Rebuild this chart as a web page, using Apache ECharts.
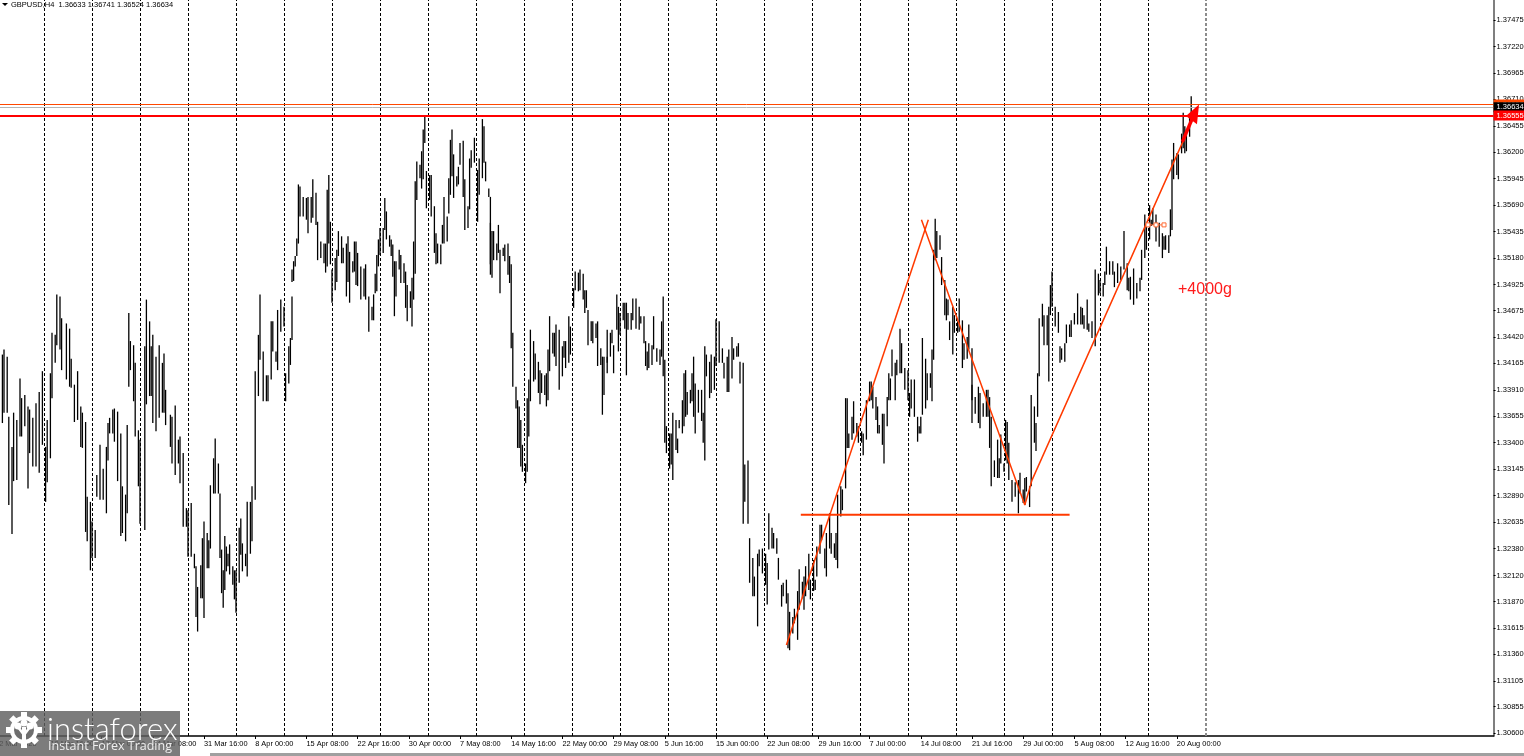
<!DOCTYPE html>
<html><head><meta charset="utf-8">
<style>html,body{margin:0;padding:0;background:#fff}#c{width:1524px;height:756px}</style>
<script src="https://cdn.jsdelivr.net/npm/echarts@6/dist/echarts.min.js"></script>
</head><body><div id="c"></div>
<script>
// Bars are [H4 bar number, high, low]; high and low are pips above 1.3000.
const barsMarApr=[[2,425,359],[3,430,369],[5,423,369],[6,365,280],[8,336,252],[9,369,303],[11,362,304],[13,402,346],[14,383,346],[16,386,356],[18,375,296],[19,372,330],[21,364,317],[23,378,317],[25,389,311],[27,409,338],[29,336,283],[30,362,302],[32,407,325],[33,446,383],[35,444,417],[36,483,434],[38,481,430],[39,460,410],[42,455,401],[44,450,394],[45,421,393],[47,396,360],[49,409,362],[51,375,336],[52,369,335],[54,360,254],[55,288,245],[57,283,217],[58,264,229],[60,256,229],[61,309,288],[63,338,285],[65,315,285],[67,336,272],[68,359,323],[69,364,349],[71,372,349],[72,373,341],[74,370,303],[76,349,250],[77,298,253],[79,290,245],[80,357,272],[81,465,394],[82,438,410],[84,434,380],[85,417,346],[87,352,298],[88,343,262],[91,433,256],[92,478,377],[94,457,385],[95,433,385],[96,444,359],[98,423,351],[100,434,364],[102,417,369],[103,426,369],[104,391,357],[107,367,336],[108,365,320],[110,376,309],[112,343,320],[113,346,301],[115,330,259],[117,277,259],[118,275,230],[120,282,230],[122,233,219],[123,221,172],[124,201,158],[126,222,190],[127,248,190],[128,264,171],[130,253,219],[131,246,219],[132,299,238],[134,325,291],[135,344,291],[137,320,291],[138,291,229],[139,237,195],[140,217,181],[141,250,198],[142,240,216],[143,233,221],[144,242,213],[146,221,203],[147,217,189],[148,217,176],[150,258,205],[151,267,232],[152,243,216],[154,233,221],[155,283,211],[157,283,233],[158,298,245],[160,409,285],[162,444,385],[163,483,420],[165,428,380],[167,405,380],[168,405,380],[170,457,401],[171,457,428],[173,428,418],[174,468,410],[176,478,447],[178,471,452],[179,407,380],[181,433,397],[182,441,415]];
const barsAprMay=[[183,481,439],[183,507,495],[184,515,496],[185,520,510],[186,537,520],[187,589,532],[188,587,558],[190,577,558],[192,576,555],[193,577,542],[195,577,552],[196,594,557],[198,581,550],[199,553,516],[201,534,518],[203,532,513],[204,532,504],[205,584,510],[206,598,532],[207,553,512],[208,507,475],[210,518,487],[211,526,495],[212,544,520],[214,539,513],[215,528,513],[217,532,481],[218,539,495],[219,524,475],[221,515,504],[222,534,505],[223,534,492],[224,523,491],[226,510,478],[228,508,481],[229,512,478],[231,481,447],[233,471,458],[234,483,458],[235,503,484],[236,521,486],[237,536,510],[238,547,521],[240,547,523],[241,576,545],[242,563,536],[244,540,529],[245,536,520],[246,531,500],[247,515,462],[248,515,481],[250,526,507],[251,521,494],[253,513,494],[254,505,470],[255,492,457],[257,486,470],[258,499,452],[259,534,478],[260,592,503],[261,611,574],[263,608,595],[264,621,585],[265,642,594],[266,656,629],[267,602,566],[269,598,574],[270,598,558],[272,568,523],[273,542,512],[274,532,513],[276,531,512],[277,550,532],[278,577,532],[280,558,534],[281,595,561],[282,632,579],[283,642,597],[284,618,576],[286,597,587],[287,606,589],[288,629,608],[290,631,577],[291,594,545],[293,568,547],[294,614,565],[295,622,605],[297,634,610],[299,603,553],[300,614,579],[302,652,595],[303,645,610],[304,611,592],[306,585,577],[307,577,502],[307,552,512],[308,544,499],[309,544,516],[311,532,516],[312,550,523],[313,526,484],[315,528,520],[316,531,515],[318,532,502],[319,520,494]];
const barsMayJun=[[320,512,431],[321,446,394],[323,394,373],[324,381,335],[325,375,335],[326,362,317],[327,338,312],[329,320,301],[330,383,312],[331,401,346],[332,449,380],[334,438,399],[335,426,401],[337,418,388],[338,410,377],[339,407,388],[341,405,386],[342,407,375],[343,430,381],[344,462,409],[346,446,426],[347,446,423],[348,454,414],[350,449,391],[352,433,404],[353,438,422],[354,438,412],[356,462,417],[357,452,425],[359,489,470],[360,505,487],[362,504,486],[363,507,487],[365,503,478],[366,487,465],[367,487,470],[368,468,434],[370,457,438],[371,457,436],[373,455,441],[374,457,414],[376,431,415],[377,423,367],[378,423,386],[380,423,407],[380,449,417],[382,446,423],[383,449,436],[384,434,407],[386,483,449],[387,471,428],[388,465,444],[390,475,458],[391,475,450],[392,475,405],[393,465,449],[395,465,449],[396,479,458],[398,479,450],[400,471,449],[401,462,455],[403,462,436],[404,438,414],[405,428,410],[406,436,412],[408,434,415],[409,462,430],[411,431,418],[413,430,415],[414,457,423],[415,481,404],[416,420,340],[417,356,330],[419,349,315],[420,349,319],[421,369,304],[423,362,333],[424,344,330],[425,362,354],[427,381,349],[428,407,356],[429,410,365],[430,389,367],[432,391,378],[433,407,380],[434,423,365],[435,397,349],[437,391,369],[439,391,361],[440,369,340],[441,433,323],[442,425,404],[444,418,383],[445,425,388],[447,423,391],[448,459,414],[450,457,417],[452,431,417],[453,417,402],[455,423,389],[456,430,389],[458,442,402],[459,431,420],[461,433,423],[462,436,423],[463,418,397],[465,417,262]];
const barsJunJul=[[466,319,283],[468,323,262],[469,248,205],[471,229,192],[472,211,192],[474,233,163],[475,237,221],[477,238,214],[479,233,203],[480,224,184],[481,272,237],[483,258,238],[484,253,238],[486,248,233],[487,229,208],[489,203,182],[490,205,192],[492,208,185],[493,195,142],[494,177,140],[496,172,156],[497,180,166],[499,197,150],[500,218,179],[502,206,190],[503,211,179],[504,221,192],[506,233,198],[507,208,189],[509,227,197],[510,208,198],[511,240,211],[513,261,233],[514,261,246],[516,238,219],[517,253,211],[519,272,238],[520,253,233],[522,243,229],[523,253,227],[524,290,219],[526,298,269],[527,295,275],[529,383,296],[530,383,335],[531,349,335],[533,365,343],[534,380,349],[536,359,346],[537,356,340],[539,351,340],[540,349,328],[542,381,343],[544,399,380],[545,399,381],[546,394,373],[548,384,362],[549,375,349],[550,357,349],[552,368,338],[553,368,320],[555,384,356],[556,407,381],[557,402,381],[558,430,404],[560,417,381],[561,420,405],[563,450,407],[564,436,407],[566,412,391],[568,410,381],[569,388,365],[570,401,373],[572,401,365],[574,365,341],[575,356,349],[576,365,349],[577,441,367],[579,421,373],[580,407,381],[582,407,393],[583,430,380],[584,526,420],[585,556,516],[586,544,518],[588,540,526],[589,519,492],[591,497,463],[592,479,458],[593,478,463],[594,457,439],[596,471,425],[597,463,446],[599,457,446],[600,479,447],[602,458,412],[603,436,420],[605,442,421],[606,454,430],[608,431,381],[608,396,359],[610,384,368],[612,394,359],[613,388,354],[615,378,365],[617,391,365],[618,391,365],[619,384,335],[620,365,298]];
const barsJulAug=[[622,323,307],[624,343,306],[625,325,306],[626,348,320],[628,320,312],[629,362,323],[630,360,320],[631,340,304],[633,304,283],[635,302,288],[637,304,272],[638,311,291],[640,295,282],[641,306,280],[642,307,293],[644,298,278],[645,386,298],[647,375,340],[648,359,332],[649,407,365],[650,460,404],[652,474,452],[653,463,434],[655,463,434],[656,471,399],[657,492,463],[658,505,471],[660,471,452],[662,466,446],[663,433,417],[664,431,420],[666,436,418],[667,454,436],[669,454,442],[670,458,442],[672,465,454],[674,484,454],[676,471,454],[677,470,454],[678,463,450],[680,478,449],[681,455,447],[683,457,441],[685,507,433],[687,503,482],[688,497,484],[690,494,481],[691,505,492],[692,529,502],[694,515,502],[696,515,502],[697,505,490],[699,513,494],[701,510,497],[703,544,507],[705,513,487],[706,499,486],[707,500,478],[709,508,473],[711,494,479],[713,499,486],[714,526,497],[716,560,518],[717,549,526],[719,569,536],[720,555,549],[721,566,550],[723,560,534],[725,552,529],[727,542,518],[728,539,526],[729,540,526],[731,540,523],[732,565,539],[733,613,545],[734,629,594],[736,619,598],[737,618,594],[739,638,619],[740,658,624],[741,645,619],[742,642,621],[744,653,635],[745,674,652]];
const dateTickBars=[0,32,64,96,128,160,192,224,256,288,320,352,384,416,448,480,512,544,576,608,640,672,704,736];
const dateTickLabels=["2 Mar 2025","10 Mar 16:00","17 Mar 00:00","24 Mar 08:00","31 Mar 16:00","8 Apr 00:00","15 Apr 08:00","22 Apr 16:00","30 Apr 00:00","7 May 08:00","14 May 16:00","22 May 00:00","29 May 08:00","5 Jun 16:00","15 Jun 00:00","22 Jun 08:00","29 Jun 16:00","7 Jul 00:00","14 Jul 08:00","21 Jul 16:00","29 Jul 00:00","5 Aug 08:00","12 Aug 16:00","20 Aug 00:00"];
const priceTicks=[1.37475,1.3722,1.36965,1.3671,1.36455,1.362,1.35945,1.3569,1.35435,1.3518,1.34925,1.34675,1.3442,1.34165,1.3391,1.33655,1.334,1.33145,1.3289,1.32635,1.3238,1.3212,1.3187,1.31615,1.3136,1.31105,1.30855,1.306];
const weekStarts=[28.2,58.2,88.2,118.2,148.2,178.2,208.2,238.2,268.2,298.2,328.2,358.2,388.2,418.2,448.2,478.2,508.2,538.2,568.2,598.2,628.2,658.2,688.2,718.2];
const shiftMark=754.25;
const upperLevel=1.3666, bidLevel=1.36634, lowerLevel=1.36555;
const necklinePrice=1.32705, necklineBars=[501,669];
const legUp1=[[492,1.3145],[580.7,1.3555]];
const legDown=[[576.4,1.3555],[641,1.3280],[645.5,1.3304],[741.75,1.3637]];
const arrowShaft=[[739.5,1.3630],[745.5,1.3652]];
const arrowHead=[[749.9,1.3666],[741.75,1.3655],[748.6,1.3647]];
const boxLevel=[[718,1.3550],[723,1.3550],[728,1.3550]];

const RED='#ff3a00', FONT='"Liberation Sans",Arial,sans-serif';
const toPrice=p=>1.3+p/10000;
const bars=[...barsMarApr,...barsAprMay,...barsMayJun,...barsJunJul,...barsJulAug].map(b=>[b[0],toPrice(b[1]),toPrice(b[2])]);

const lineSeries=(data,color,width,extra)=>Object.assign({type:'line',data,symbol:'none',silent:true,animation:false,z:5,lineStyle:{color,width}},extra||{});

const levelLine=(v,color,width,bg,name)=>({yAxis:v,lineStyle:{color,width,type:'solid'},
  label:{show:true,position:'end',distance:0,formatter:name,color:'#fff',backgroundColor:bg,padding:[1,2,1,3],fontFamily:FONT,fontSize:7.5,lineHeight:8}});

const LOGO='#fff';
const teeth=[];
for(let i=0;i<8;i++){teeth.push({type:'rect',z:31,shape:{x:-3,y:-18,width:6,height:6},rotation:i*Math.PI/4,originX:0,originY:0,style:{fill:LOGO}});}

const chart=echarts.init(document.getElementById('c'),null,{renderer:'canvas'});
chart.setOption({
  animation:false,backgroundColor:'#fff',
  title:{text:'GBPUSD,H4  1.36633 1.36741 1.36524 1.36634',left:11,top:0,padding:0,textStyle:{fontFamily:FONT,fontSize:7.5,fontWeight:'normal',color:'#000',lineHeight:9}},
  grid:{left:-0.8,top:0,width:1494.4,height:736,containLabel:false,outerBoundsMode:'none'},
  xAxis:{type:'value',min:0,max:934,
    axisLine:{show:true,onZero:false,lineStyle:{color:'#000',width:1.5}},
    splitLine:{show:false},
    axisTick:{show:true,length:3,customValues:dateTickBars,lineStyle:{color:'#000'}},
    axisLabel:{customValues:dateTickBars,align:'left',margin:4,color:'#000',fontFamily:FONT,fontSize:7.4,
      formatter:v=>dateTickLabels[dateTickBars.indexOf(v)]||''}},
  yAxis:{type:'value',position:'right',min:1.30573,max:1.37668,scale:true,
    axisLine:{show:true,onZero:false,lineStyle:{color:'#555',width:1.5}},
    splitLine:{show:false},
    axisTick:{show:true,length:2,customValues:priceTicks,lineStyle:{color:'#000'}},
    axisLabel:{customValues:priceTicks,margin:3,color:'#000',fontFamily:FONT,fontSize:7.5,formatter:v=>v.toFixed(5)}},
  series:[
    lineSeries([],'#000',1,{z:1,markLine:{silent:true,symbol:'none',animation:false,label:{show:false},precision:5,
      lineStyle:{color:'#000',width:1,type:[3,2]},
      data:weekStarts.map(x=>({xAxis:x})).concat([{xAxis:shiftMark,lineStyle:{color:'#8c8c8c',width:2,type:[3,2]}}])}}),
    {type:'custom',name:'GBPUSD,H4',silent:true,animation:false,z:2,clip:true,data:bars,
      encode:{x:0,y:[1,2]},
      renderItem:(p,api)=>{const a=api.coord([api.value(0),api.value(1)]),b=api.coord([api.value(0),api.value(2)]);
        return {type:'rect',shape:{x:a[0]-0.65,y:a[1],width:1.3,height:b[1]-a[1]},style:{fill:'#000'}};}},
    lineSeries([],RED,1,{z:6,markLine:{silent:true,symbol:'none',animation:false,precision:5,data:[
      levelLine(upperLevel,'#ff4800',1,'#ff4800','1.36660'),
      levelLine(bidLevel,'#b4b4b4',1,'#000','1.36634'),
      levelLine(lowerLevel,'#ff0000',2,'#ff0000','1.36555')]}}),
    lineSeries(legUp1,RED,1.5),
    lineSeries(legDown,RED,1.5),
    lineSeries([[necklineBars[0],necklinePrice],[necklineBars[1],necklinePrice]],RED,2),
    lineSeries(arrowShaft,'#ff0000',3.5),
    {type:'custom',silent:true,animation:false,z:6,data:[0],
      renderItem:(p,api)=>({type:'polygon',shape:{points:arrowHead.map(c=>api.coord(c))},style:{fill:'#ff0000'}})},
    lineSeries(boxLevel,'#ff6a33',1,{symbol:'rect',symbolSize:4,showSymbol:true,itemStyle:{color:'#fff',borderColor:'#ff6a33',borderWidth:1}})
  ],
  graphic:[
    {type:'polygon',shape:{points:[[2,3],[8,3],[5,6]]},style:{fill:'#000'},z:20},
    {type:'text',x:1178,y:282,style:{text:'+4000g',fill:'#ff1a1a',font:'16px '+FONT},z:20},
    {type:'rect',shape:{x:210,y:753,width:1314,height:3},style:{fill:'#a0a0a0'},z:20},
    {type:'rect',shape:{x:0,y:711,width:180,height:45},style:{fill:'rgba(95,95,95,0.82)'},z:30},
    {type:'group',x:24,y:730,children:teeth.concat([
      {type:'circle',z:31,shape:{r:14},style:{fill:LOGO}},
      {type:'circle',z:32,shape:{r:10},style:{fill:'#6e6e6e'}},
      {type:'rect',z:33,shape:{x:-2,y:-3,width:4,height:17},style:{fill:LOGO}},
      {type:'circle',z:33,shape:{cx:-6,cy:-4,r:3.5},style:{fill:LOGO}},
      {type:'circle',z:33,shape:{cx:6,cy:-4,r:3.5},style:{fill:LOGO}},
      {type:'circle',z:33,shape:{cx:0,cy:-7,r:3.5},style:{fill:LOGO}},
      {type:'polyline',z:33,shape:{points:[[-6,-3],[0,5],[6,-3]]},style:{stroke:LOGO,lineWidth:2.5,fill:'none'}}
    ])},
    {type:'text',x:47,y:714,z:31,style:{text:'instaforex',fill:'#fff',font:'300 31px Lato,"Open Sans",sans-serif'}},
    {type:'text',x:48,y:740,z:31,style:{text:'Instant Forex Trading',fill:'#eee',font:'12.5px "Open Sans",sans-serif'}}
  ]
});
</script></body></html>
